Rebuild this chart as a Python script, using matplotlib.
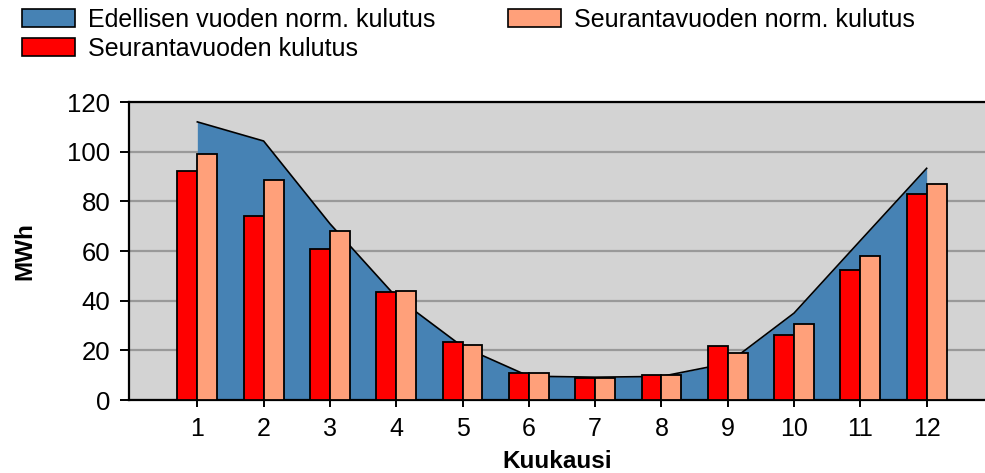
import numpy as np
import matplotlib
matplotlib.use("Agg")
import matplotlib.pyplot as plt
from matplotlib.patches import Patch

plt.rcParams['font.family'] = ['Liberation Sans', 'DejaVu Sans']

# data (MWh per month)
months = np.arange(1, 13)
prev_norm = [112, 104.3, 71, 41.5, 21.5, 9.6, 9.2, 9.5, 14.8, 35, 64.2, 93.3]
cur_actual = [92.2, 74.2, 60.9, 43.6, 23.5, 10.8, 8.9, 10.2, 21.9, 26, 52.4, 83.1]
cur_norm = [99.2, 88.5, 68, 43.9, 22.3, 10.8, 8.9, 10.2, 18.8, 30.8, 58, 86.9]

labels = ['Edellisen vuoden norm. kulutus', 'Seurantavuoden kulutus',
          'Seurantavuoden norm. kulutus']
c_blue = '#4682B4'
c_red = '#FF0000'
c_salmon = '#FFA07A'

fig = plt.figure(figsize=(9.85, 4.73), dpi=100)
ax = fig.add_axes([0.131, 0.1543, 0.869, 0.630])
ax.set_facecolor('#D3D3D3')

ax.fill_between(months, 0, prev_norm, color=c_blue, lw=0, zorder=2)
ax.plot(months, prev_norm, color='black', lw=1.2, zorder=2.5)

w = 0.3
ax.bar(months - w / 2, cur_actual, width=w, color=c_red, edgecolor='black', lw=1.3, zorder=3)
ax.bar(months + w / 2, cur_norm, width=w, color=c_salmon, edgecolor='black', lw=1.3, zorder=3)

ax.set_xlim(-0.03, 12.88)
ax.set_ylim(0, 120)
ax.set_yticks(np.arange(0, 121, 20))
ax.set_xticks(months)
ax.yaxis.grid(True, color='#999999', lw=1.6, zorder=1)
ax.set_axisbelow(True)

for s in ['left', 'bottom', 'top']:
    ax.spines[s].set_linewidth(1.6)
    ax.spines[s].set_color('black')
ax.spines['right'].set_visible(False)

ax.tick_params(axis='y', length=6.5, width=1.4, pad=7, labelsize=18.5)
ax.tick_params(axis='x', length=5, width=1.4, pad=7, labelsize=18)

ax.set_ylabel('MWh', fontsize=17.5, fontweight='bold', labelpad=22)
ax.set_xlabel('Kuukausi', fontsize=17.5, fontweight='bold', labelpad=7)

handles = [Patch(facecolor=c_blue, edgecolor='black', lw=1.2),
           Patch(facecolor=c_red, edgecolor='black', lw=1.2),
           Patch(facecolor=c_salmon, edgecolor='black', lw=1.2)]
fig.legend(handles, labels, loc='upper left', bbox_to_anchor=(22 / 985, 1 - 8 / 473),
           ncol=2, frameon=False, fontsize=18, borderpad=0, borderaxespad=0,
           handlelength=2.1, handleheight=0.75, handletextpad=0.55,
           columnspacing=2.9, labelspacing=0.2)

fig.savefig('out.png', dpi=100)
